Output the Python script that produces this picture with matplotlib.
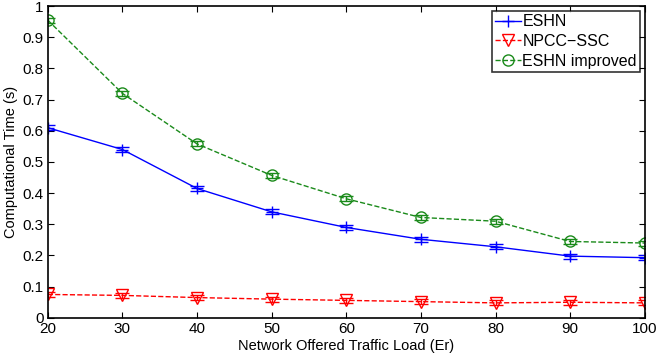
import numpy as np
import matplotlib.pyplot as plt

plt.rcParams['font.family'] = ['Liberation Sans', 'DejaVu Sans']

load = [20, 30, 40, 50, 60, 70, 80, 90, 100]
eshn = [0.61, 0.54, 0.415, 0.34, 0.29, 0.252, 0.228, 0.198, 0.193]
npcc = [0.075, 0.072, 0.065, 0.060, 0.056, 0.052, 0.048, 0.050, 0.048]
eshn_imp = [0.955, 0.72, 0.558, 0.457, 0.382, 0.322, 0.310, 0.245, 0.240]
err = [0.008, 0.008, 0.008, 0.008, 0.008, 0.008, 0.008, 0.008, 0.008]

fig = plt.figure(figsize=(6.64, 3.62), dpi=100)
ax = fig.add_axes([0.072, 0.122, 0.899, 0.861])

e1 = ax.errorbar(load, eshn, yerr=err, color='blue', marker='+', markersize=9,
                 linestyle='-', linewidth=1, capsize=5, elinewidth=1)
e2 = ax.errorbar(load, npcc, yerr=err, color='red', marker='v', markersize=8,
                 markerfacecolor='none', linestyle='--', linewidth=1, capsize=5,
                 elinewidth=1)
e3 = ax.errorbar(load, eshn_imp, yerr=err, color='#1a8a1a', marker='o', markersize=8,
                 markerfacecolor='none', linestyle='--', linewidth=1, capsize=5,
                 elinewidth=1)

ax.set_xlim(20, 100)
ax.set_ylim(0, 1)
ax.set_xticks(np.arange(20, 101, 10))
ax.set_yticks([0, 0.1, 0.2, 0.3, 0.4, 0.5, 0.6, 0.7, 0.8, 0.9, 1])
ax.set_yticklabels(['0', '0.1', '0.2', '0.3', '0.4', '0.5', '0.6', '0.7', '0.8', '0.9', '1'])
ax.tick_params(direction='in', labelsize=11, top=True, right=True, length=4, pad=3)
for s in ax.spines.values():
    s.set_linewidth(1.2)

ax.set_xlabel('Network Offered Traffic Load (Er)', fontsize=10.5, labelpad=2)
ax.set_ylabel('Computational Time (s)', fontsize=10.5, labelpad=3)

leg = ax.legend([e1[0], e2[0], e3[0]], ['ESHN', 'NPCC\u2212SSC', 'ESHN improved'],
                loc='upper right', fontsize=11.5, fancybox=False, edgecolor='black',
                handlelength=1.6, handletextpad=0.1, borderpad=0.2, labelspacing=0.3,
                borderaxespad=0.3)
leg.get_frame().set_linewidth(1.2)

fig.savefig('out.png', dpi=100)
